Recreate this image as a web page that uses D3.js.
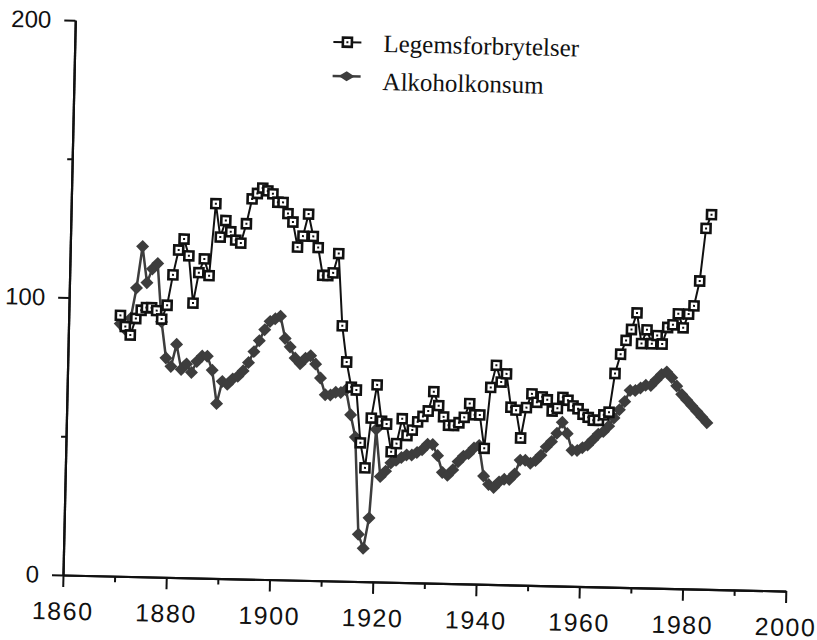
<!DOCTYPE html>
<html>
<head>
<meta charset="utf-8">
<script src="https://cdn.jsdelivr.net/npm/d3@7"></script>
<style>
  body { margin: 0; background: #fff; }
  svg { display: block; }
  .tick text { fill: #111; }
</style>
</head>
<body>
<div id="chart"></div>
<script>
// years 1870-1984, one value per year
var years = [1870,1871,1872,1873,1874,1875,1876,1877,1878,1879,
  1880,1881,1882,1883,1884,1885,1886,1887,1888,1889,
  1890,1891,1892,1893,1894,1895,1896,1897,1898,1899,
  1900,1901,1902,1903,1904,1905,1906,1907,1908,1909,
  1910,1911,1912,1913,1914,1915,1916,1917,1918,1919,
  1920,1921,1922,1923,1924,1925,1926,1927,1928,1929,
  1930,1931,1932,1933,1934,1935,1936,1937,1938,1939,
  1940,1941,1942,1943,1944,1945,1946,1947,1948,1949,
  1950,1951,1952,1953,1954,1955,1956,1957,1958,1959,
  1960,1961,1962,1963,1964,1965,1966,1967,1968,1969,
  1970,1971,1972,1973,1974,1975,1976,1977,1978,1979,
  1980,1981,1982,1983,1984]

var legemsforbrytelser = [94,90,87,93,96,97,97,96,93,98,
  109,118,122,116,99,110,115,109,135,123,
  129,125,122,121,128,137,139,141,140,139,
  136,136,132,129,120,124,132,124,120,110,
  110,111,118,92,79,70,69,50,41,59,
  71,58,57,47,50,59,53,55,58,60,
  62,69,64,60,57,57,58,60,65,61,
  61,49,71,79,73,76,64,63,53,64,
  69,66,68,67,63,64,68,67,65,64,
  62,61,60,60,62,63,77,84,89,93,
  99,88,93,88,91,88,94,95,99,94,
  99,102,111,130,135]

var alkoholkonsum = [91,89,93,104,119,106,111,113,92,79,
  76,84,75,77,74,78,80,80,75,63,
  71,70,72,73,75,78,82,86,90,93,
  94,95,87,84,80,78,80,81,78,73,
  67,67,68,68,69,60,52,17,12,23,
  55,38,40,43,44,45,46,46,47,48,
  50,50,46,40,39,41,44,46,47,49,
  50,39,36,35,37,38,38,40,45,45,
  44,45,47,50,52,55,59,55,49,49,
  50,51,53,55,56,58,61,64,67,71,
  71,72,73,73,75,77,78,76,73,70,
  68,66,64,62,60]

var xMajor = [1860,1880,1900,1920,1940,1960,1980,2000]
var xMinor = [1870,1890,1910,1930,1950,1970,1990]
var yMajor = [0,100,200]
var yMinor = [50,150]

var legendNames = ['Legemsforbrytelser','Alkoholkonsum']

var W = 817, H = 640
var origin = { x: 63, y: 575 }
var plotW = 723, plotH = 555
var tilt = 1.27   // the scan sits slightly rotated

var svg = d3.select('#chart').append('svg')
    .attr('width', W)
    .attr('height', H)

svg.append('rect').attr('width', W).attr('height', H).attr('fill', '#fff')

var g = svg.append('g')
    .attr('transform', 'translate(' + origin.x + ',' + origin.y + ') rotate(' + tilt + ')')

var x = d3.scaleLinear().domain([1860, 2000]).range([0, plotW])
var y = d3.scaleLinear().domain([0, 200]).range([0, -plotH])

// axes
var xAxis = d3.axisBottom(x).tickValues(xMajor).tickFormat(d3.format('d'))
    .tickSize(12).tickSizeOuter(0).tickPadding(15)
var xAxisMinor = d3.axisBottom(x).tickValues(xMinor).tickFormat('')
    .tickSize(6).tickSizeOuter(0)
var yAxis = d3.axisLeft(y).tickValues(yMajor).tickFormat(d3.format('d'))
    .tickSize(11).tickSizeOuter(0).tickPadding(13)
var yAxisMinor = d3.axisLeft(y).tickValues(yMinor).tickFormat('')
    .tickSize(5).tickSizeOuter(0)

function styleAxis(sel, size, spacing) {
    sel.select('.domain').attr('stroke', '#111').attr('stroke-width', 2.2)
    sel.selectAll('.tick line').attr('stroke', '#111').attr('stroke-width', 2)
    sel.selectAll('.tick text')
        .style('font-family', '"Liberation Sans", Arial, sans-serif')
        .style('font-size', size + 'px')
        .style('letter-spacing', spacing + 'px')
}

g.append('g').call(xAxisMinor).call(styleAxis, 25, 0)
g.append('g').call(xAxis).call(styleAxis, 25, 1.5)
g.append('g').call(yAxisMinor).call(styleAxis, 24, 0)
g.append('g').call(yAxis).call(styleAxis, 24, 0)

// series
var alcData = years.map(function(d, i) { return { year: d, v: alkoholkonsum[i] } })
var crimeData = years.map(function(d, i) { return { year: d, v: legemsforbrytelser[i] } })

var line = d3.line()
    .x(function(d) { return x(d.year) })
    .y(function(d) { return y(d.v) })

var dark = '#3d3d3d'
var diamond = 'M0,-6.5L6.5,0L0,6.5L-6.5,0Z'

g.append('path')
    .datum(alcData)
    .attr('fill', 'none')
    .attr('stroke', dark)
    .attr('stroke-width', 2.5)
    .attr('d', line)

g.selectAll('.alc')
    .data(alcData)
    .enter()
    .append('path')
    .attr('class', 'alc')
    .attr('d', diamond)
    .attr('fill', dark)
    .attr('transform', function(d) { return 'translate(' + x(d.year) + ',' + y(d.v) + ')' })

g.append('path')
    .datum(crimeData)
    .attr('fill', 'none')
    .attr('stroke', '#111')
    .attr('stroke-width', 2)
    .attr('d', line)

var sq = g.selectAll('.crime')
    .data(crimeData)
    .enter()
    .append('g')
    .attr('class', 'crime')
    .attr('transform', function(d) { return 'translate(' + x(d.year) + ',' + y(d.v) + ')' })

sq.append('rect')
    .attr('x', -4.5).attr('y', -4.5)
    .attr('width', 9).attr('height', 9)
    .attr('fill', '#fff')
    .attr('stroke', '#111')
    .attr('stroke-width', 2.6)

sq.append('rect')
    .attr('x', -1).attr('y', -1)
    .attr('width', 2).attr('height', 2)
    .attr('fill', '#111')

// legend
var legend = svg.append('g').attr('transform', 'rotate(' + tilt + ',383,60)')

var lg1 = legend.append('g').attr('transform', 'translate(347,43)')
lg1.append('line').attr('x1', -14).attr('x2', 14).attr('stroke', '#111').attr('stroke-width', 2)
lg1.append('rect').attr('x', -4.5).attr('y', -4.5).attr('width', 9).attr('height', 9)
    .attr('fill', '#fff').attr('stroke', '#111').attr('stroke-width', 2.6)
lg1.append('rect').attr('x', -1).attr('y', -1).attr('width', 2).attr('height', 2).attr('fill', '#111')

var lg2 = legend.append('g').attr('transform', 'translate(347,77)')
lg2.append('line').attr('x1', -14).attr('x2', 14).attr('stroke', dark).attr('stroke-width', 2.5)
lg2.append('path').attr('d', 'M0,-5L8,0L0,5L-8,0Z').attr('fill', dark)

legend.selectAll('.ltext')
    .data(legendNames)
    .enter()
    .append('text')
    .attr('class', 'ltext')
    .attr('x', 383)
    .attr('y', function(d, i) { return 52 + i * 38 })
    .style('font-family', '"Liberation Serif", "Times New Roman", serif')
    .style('font-size', '25px')
    .attr('fill', '#111')
    .text(function(d) { return d })
</script>
</body>
</html>
